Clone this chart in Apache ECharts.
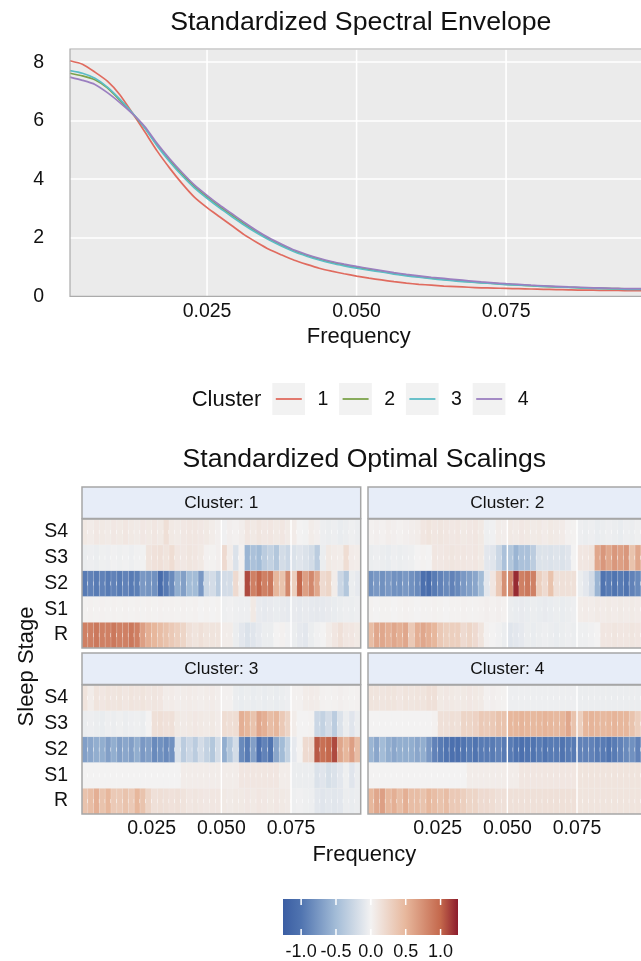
<!DOCTYPE html>
<html>
<head>
<meta charset="utf-8">
<script src="https://cdn.jsdelivr.net/npm/echarts@6/dist/echarts.min.js"></script>
<style>
  html, body { margin: 0; padding: 0; background: #ffffff; }
  #chart { width: 641px; height: 961px; }
</style>
</head>
<body>
<div id="chart"></div>
<script>
// Fourier frequency grid of the spectral analysis (k / 480)
const frequency = Array.from({ length: 48 }, (_, i) => (i + 1) / 480);
const clusterNames = ['1', '2', '3', '4'];
const stageNames = ['R', 'S1', 'S2', 'S3', 'S4'];
const freqTicks = [0.025, 0.05, 0.075];
const facetGridFreqs = [0.05, 0.075];
const colorbarTicks = [-1.0, -0.5, 0.0, 0.5, 1.0];

// Standardized spectral envelope per cluster
const envelope1 = [8.05, 7.93, 7.66, 7.35, 6.89, 6.27, 5.62, 4.96, 4.38, 3.85,
  3.38, 3.03, 2.72, 2.41, 2.10, 1.84, 1.60, 1.41, 1.23, 1.09,
  0.96, 0.86, 0.77, 0.69, 0.62, 0.56, 0.50, 0.45, 0.41, 0.38,
  0.35, 0.33, 0.31, 0.29, 0.28, 0.27, 0.26, 0.25, 0.24, 0.23,
  0.22, 0.21, 0.21, 0.20, 0.20, 0.19, 0.19, 0.18];
const envelope2 = [7.62, 7.53, 7.40, 7.12, 6.70, 6.25, 5.76, 5.17, 4.64, 4.17,
  3.75, 3.40, 3.07, 2.77, 2.47, 2.20, 1.95, 1.74, 1.55, 1.40,
  1.27, 1.16, 1.07, 0.99, 0.92, 0.85, 0.78, 0.72, 0.67, 0.62,
  0.58, 0.54, 0.50, 0.47, 0.44, 0.41, 0.39, 0.36, 0.34, 0.32,
  0.31, 0.29, 0.28, 0.27, 0.26, 0.25, 0.24, 0.24];
const envelope3 = [7.71, 7.62, 7.45, 7.15, 6.74, 6.27, 5.75, 5.14, 4.60, 4.12,
  3.70, 3.35, 3.02, 2.72, 2.43, 2.16, 1.92, 1.71, 1.52, 1.37,
  1.24, 1.13, 1.04, 0.96, 0.89, 0.83, 0.76, 0.70, 0.65, 0.60,
  0.56, 0.52, 0.49, 0.46, 0.43, 0.40, 0.38, 0.36, 0.34, 0.32,
  0.30, 0.29, 0.27, 0.26, 0.25, 0.24, 0.24, 0.23];
const envelope4 = [7.49, 7.38, 7.24, 6.96, 6.62, 6.24, 5.80, 5.22, 4.70, 4.23,
  3.80, 3.45, 3.12, 2.82, 2.52, 2.24, 1.99, 1.78, 1.58, 1.43,
  1.30, 1.19, 1.10, 1.02, 0.95, 0.88, 0.81, 0.75, 0.70, 0.65,
  0.61, 0.57, 0.53, 0.49, 0.46, 0.43, 0.41, 0.38, 0.36, 0.34,
  0.32, 0.31, 0.29, 0.28, 0.27, 0.26, 0.26, 0.25];

// Standardized optimal scalings: rows R, S1, S2, S3, S4 (48 frequencies each)
const scalings1 = [
  [0.85, 0.85, 0.9, 0.85, 0.85, 0.9, 0.85, 0.85, 0.9, 0.85, 0.65, 0.55, 0.5, 0.45, 0.4, 0.35, 0.3, 0.25, 0.15, 0.12, 0.15, 0.12, 0.12, 0.12, 0.05, 0.05, -0.05, -0.1, -0.15, -0.12, -0.08, -0.05, -0.05, 0.0, 0.02, -0.02, -0.05, -0.08, -0.1, -0.05, -0.02, 0.0, 0.05, 0.1, 0.15, 0.1, 0.1, 0.08],
  [0.01, 0.02, 0.01, 0.02, 0.01, 0.02, 0.01, 0.02, 0.01, 0.02, 0.01, 0.02, 0.01, 0.02, 0.01, 0.02, 0.01, 0.02, 0.01, 0.02, 0.0, 0.01, 0.0, 0.01, -0.03, -0.02, -0.03, -0.04, -0.04, 0.08, -0.07, -0.08, -0.07, -0.06, -0.07, -0.08, -0.07, -0.08, -0.07, -0.08, -0.09, -0.08, -0.07, -0.06, -0.05, -0.04, -0.05, -0.04],
  [-0.95, -0.9, -0.95, -0.9, -0.95, -0.9, -0.95, -0.9, -0.95, -0.92, -0.75, -0.78, -0.8, -1.1, -0.95, -0.85, -0.6, -0.7, -0.5, -0.5, -0.75, -0.25, -0.2, -0.35, -0.2, -0.2, 0.2, 0.05, 1.1, 0.85, 1.0, 0.85, 0.9, 0.5, 0.4, 0.8, 0.3, 1.0, 0.65, 0.8, 0.6, 0.2, 0.25, 0.05, -0.25, -0.4, -0.05, -0.08],
  [-0.05, -0.04, -0.05, -0.03, -0.04, -0.02, -0.03, -0.02, -0.04, -0.02, -0.01, 0.12, 0.14, 0.15, 0.12, 0.18, 0.1, 0.09, 0.11, 0.1, 0.08, 0.02, 0.01, 0.03, 0.2, 0.05, -0.15, 0.02, -0.55, -0.45, -0.5, -0.35, -0.3, -0.4, -0.2, -0.25, -0.15, -0.12, -0.15, -0.2, -0.35, -0.05, 0.08, 0.06, 0.05, 0.18, 0.06, 0.05],
  [0.08, 0.06, 0.09, 0.08, 0.07, 0.09, 0.08, 0.1, 0.08, 0.07, 0.09, 0.08, 0.1, 0.08, 0.16, 0.08, 0.07, 0.09, 0.1, 0.1, 0.09, 0.08, 0.05, 0.03, -0.02, 0.03, 0.02, 0.04, 0.1, 0.08, 0.11, 0.09, 0.1, 0.08, 0.1, 0.07, 0.06, 0.0, -0.01, 0.05, 0.03, -0.04, -0.05, -0.04, -0.06, -0.05, -0.03, -0.05]
];
const scalings2 = [
  [0.45, 0.6, 0.6, 0.55, 0.6, 0.55, 0.6, 0.35, 0.55, 0.6, 0.55, 0.5, 0.35, 0.3, 0.3, 0.3, 0.2, 0.25, 0.2, 0.12, 0.02, 0.0, -0.02, -0.05, -0.12, -0.1, -0.08, -0.05, -0.06, -0.05, -0.04, -0.05, -0.06, -0.05, -0.04, -0.05, -0.03, -0.03, -0.02, 0.0, 0.1, 0.1, 0.11, 0.1, 0.1, 0.11, 0.1, 0.1],
  [0.01, 0.0, 0.01, 0.01, 0.0, 0.01, 0.02, 0.01, 0.0, 0.01, 0.01, 0.02, 0.01, 0.0, 0.01, 0.01, 0.02, 0.01, 0.01, 0.02, 0.03, 0.02, 0.03, 0.02, -0.05, -0.06, -0.07, -0.06, -0.05, -0.06, -0.07, -0.06, -0.05, -0.06, -0.05, -0.04, 0.05, 0.06, 0.05, 0.07, 0.06, 0.07, 0.06, 0.07, 0.06, 0.07, 0.06, 0.05],
  [-0.8, -0.75, -0.8, -0.75, -0.8, -0.8, -0.75, -0.8, -0.85, -1.05, -1.1, -0.95, -0.9, -0.85, -0.9, -0.85, -0.75, -0.7, -0.65, -0.5, -0.1, 0.1, 0.35, 0.75, 0.8, 1.2, 0.85, 0.9, 0.85, 0.3, 0.2, 0.4, 0.15, 0.15, 0.15, 0.15, -0.05, -0.1, -0.2, -0.55, -1.0, -0.95, -1.0, -0.95, -1.0, -0.9, -0.85, -0.95],
  [-0.05, -0.04, -0.05, -0.06, -0.04, -0.05, -0.04, -0.03, 0.0, 0.01, 0.0, 0.1, 0.09, 0.1, 0.11, 0.1, 0.1, 0.09, 0.1, 0.08, -0.1, -0.12, -0.25, -0.45, -0.4, -0.55, -0.45, -0.45, -0.35, -0.15, -0.14, -0.15, -0.13, -0.15, -0.12, 0.0, 0.1, 0.1, 0.12, 0.6, 0.7, 0.6, 0.7, 0.65, 0.7, 0.4, 0.6, 0.55],
  [0.02, 0.03, 0.02, 0.04, 0.03, 0.02, 0.03, 0.04, 0.05, 0.1, 0.12, 0.1, 0.11, 0.1, 0.09, 0.1, 0.08, 0.09, 0.1, 0.08, -0.03, -0.02, 0.05, 0.04, 0.08, 0.07, 0.09, 0.08, 0.07, 0.08, 0.06, 0.08, 0.07, 0.06, 0.02, 0.01, -0.04, -0.05, -0.04, -0.06, -0.05, -0.04, -0.05, -0.06, -0.04, -0.05, -0.03, -0.05]
];
const scalings3 = [
  [0.4, 0.45, 0.55, 0.4, 0.5, 0.35, 0.35, 0.4, 0.35, 0.5, 0.4, 0.25, 0.15, 0.16, 0.15, 0.14, 0.15, 0.13, 0.1, 0.11, 0.1, 0.09, 0.1, 0.1, 0.08, 0.07, 0.08, 0.08, 0.09, 0.08, 0.1, 0.09, 0.08, 0.09, 0.08, 0.07, -0.03, -0.02, -0.03, -0.04, -0.1, -0.12, -0.1, -0.11, -0.1, -0.05, -0.06, -0.05],
  [0.0, 0.0, 0.0, 0.0, 0.0, 0.0, 0.0, 0.0, 0.0, 0.0, 0.0, 0.0, 0.0, 0.0, 0.0, 0.0, 0.0, 0.05, 0.05, 0.05, 0.05, 0.05, 0.05, 0.05, 0.05, 0.05, 0.05, 0.1, 0.1, 0.1, 0.1, 0.1, 0.1, 0.1, 0.05, 0.05, -0.05, -0.05, -0.05, -0.05, -0.15, -0.12, -0.18, -0.15, -0.1, -0.03, -0.12, -0.05],
  [-0.7, -0.65, -0.6, -0.6, -0.7, -0.6, -0.7, -0.65, -0.7, -0.6, -0.75, -0.7, -0.85, -0.8, -0.85, -0.8, -0.15, -0.35, -0.25, -0.35, -0.2, -0.3, -0.4, -0.2, -0.6, -0.4, -0.2, -0.85, -0.95, -0.7, -1.05, -0.9, -1.0, -0.65, -0.5, -0.3, -0.08, 0.0, 0.2, 0.2, 1.05, 0.95, 1.0, 1.1, 0.6, 0.5, 0.65, 0.45],
  [-0.05, -0.04, -0.05, -0.06, -0.04, -0.05, -0.03, -0.05, -0.04, -0.03, -0.05, 0.0, 0.15, 0.16, 0.14, 0.15, 0.08, 0.07, 0.08, 0.09, 0.08, 0.07, 0.08, 0.06, 0.18, 0.17, 0.18, 0.55, 0.5, 0.4, 0.6, 0.55, 0.45, 0.5, 0.35, 0.25, 0.05, 0.0, 0.0, 0.01, -0.25, -0.3, -0.2, -0.35, -0.15, -0.05, -0.12, -0.05],
  [0.12, 0.05, 0.12, 0.1, 0.12, 0.11, 0.12, 0.1, 0.12, 0.11, 0.12, 0.1, 0.11, 0.1, 0.05, 0.06, 0.04, 0.05, 0.06, 0.05, 0.04, 0.05, 0.06, 0.04, 0.02, 0.02, -0.05, -0.06, -0.05, -0.06, -0.05, -0.06, -0.05, -0.06, -0.05, -0.04, 0.02, 0.02, 0.05, 0.06, 0.05, 0.02, 0.01, 0.02, 0.03, 0.02, 0.01, 0.02]
];
const scalings4 = [
  [0.5, 0.6, 0.65, 0.5, 0.55, 0.45, 0.55, 0.45, 0.45, 0.4, 0.5, 0.45, 0.4, 0.45, 0.35, 0.35, 0.3, 0.25, 0.25, 0.2, 0.2, 0.18, 0.15, 0.15, 0.15, 0.15, 0.15, 0.15, 0.15, 0.15, 0.15, 0.15, 0.15, 0.15, 0.15, 0.15, 0.12, 0.12, 0.12, 0.12, 0.12, 0.12, 0.12, 0.12, 0.12, 0.12, 0.12, 0.12],
  [0.0, 0.0, 0.0, 0.0, 0.0, 0.0, 0.0, 0.0, 0.0, 0.0, 0.0, 0.0, 0.0, 0.0, 0.0, 0.0, 0.0, 0.05, 0.05, 0.05, 0.05, 0.05, 0.05, 0.05, 0.05, 0.05, 0.1, 0.1, 0.1, 0.1, 0.1, 0.1, 0.1, 0.1, 0.1, 0.1, 0.12, 0.12, 0.12, 0.12, 0.12, 0.12, 0.12, 0.12, 0.12, 0.12, 0.12, 0.12],
  [-0.55, -0.65, -0.5, -0.6, -0.65, -0.6, -0.6, -0.6, -0.65, -0.6, -0.75, -0.9, -0.95, -1.0, -1.05, -1.05, -1.0, -0.95, -1.0, -0.95, -0.95, -0.95, -0.9, -0.95, -0.95, -1.0, -1.05, -1.0, -1.0, -0.95, -1.0, -0.95, -0.95, -1.0, -0.95, -0.95, -0.9, -0.9, -0.9, -0.95, -0.95, -1.0, -0.95, -0.9, -0.85, -0.8, -0.9, -0.8],
  [0.0, 0.0, 0.0, 0.0, 0.0, 0.0, 0.0, 0.0, 0.0, 0.0, 0.0, 0.02, 0.15, 0.15, 0.16, 0.15, 0.25, 0.25, 0.27, 0.35, 0.33, 0.35, 0.4, 0.4, 0.5, 0.5, 0.52, 0.5, 0.48, 0.5, 0.52, 0.5, 0.48, 0.5, 0.6, 0.4, 0.3, 0.5, 0.52, 0.5, 0.48, 0.5, 0.52, 0.5, 0.5, 0.4, 0.3, 0.3],
  [0.12, 0.12, 0.11, 0.12, 0.12, 0.1, 0.12, 0.11, 0.12, 0.12, 0.15, 0.15, 0.08, 0.09, 0.08, 0.07, 0.08, 0.09, 0.08, 0.07, 0.02, 0.03, 0.02, 0.01, -0.04, -0.04, -0.04, -0.04, -0.04, -0.04, -0.04, -0.04, -0.04, -0.04, -0.04, -0.04, -0.05, -0.05, -0.05, -0.05, -0.05, -0.05, -0.05, -0.05, -0.05, -0.05, -0.05, -0.05]
];

const envelopes = [envelope1, envelope2, envelope3, envelope4];
const scalings = [scalings1, scalings2, scalings3, scalings4];

// ---- styling ----
const FONT = '"Liberation Sans", Arial, Helvetica, sans-serif';
const TEXT = '#111111';
const lineColors = ['#E06B5F', '#7CA34B', '#5BBCC6', '#9B7FC0'];
const scaleMin = -1.26, scaleMax = 1.25;
const colorStops = [
  [-1.26, [59, 94, 163]],
  [-1.0, [80, 116, 176]],
  [-0.5, [163, 188, 215]],
  [0.0, [243, 242, 242]],
  [0.5, [231, 183, 156]],
  [1.0, [196, 104, 76]],
  [1.25, [140, 28, 44]]
];
function colorOf(v) {
  const lo = colorStops[0][0], hi = colorStops[colorStops.length - 1][0];
  v = Math.max(lo, Math.min(hi, v));
  for (let i = 1; i < colorStops.length; i++) {
    const [v1, c1] = colorStops[i];
    const [v0, c0] = colorStops[i - 1];
    if (v <= v1) {
      const t = (v - v0) / (v1 - v0);
      const c = c0.map((a, k) => Math.round(a + (c1[k] - a) * t));
      return 'rgb(' + c.join(',') + ')';
    }
  }
  return 'rgb(140,28,44)';
}

// ---- layout (the right-hand panels run past the canvas edge) ----
const envGrid = { left: 70, top: 49, width: 585.6, height: 247.3 };
const panelW = 278.7, panelH = 129, stripH = 32;
const panelPos = [[82, 519], [368, 519], [82, 685], [368, 685]];
const barGrid = { left: 283, top: 899, width: 175, height: 36 };
const freqStep = 1 / 480;

function gridBox(left, top, width, height, extra) {
  return Object.assign({ left: left, top: top, width: width, height: height,
    outerBoundsMode: 'none', containLabel: false }, extra || {});
}

const grids = [gridBox(envGrid.left, envGrid.top, envGrid.width, envGrid.height,
  { show: true, backgroundColor: '#EBEBEB', borderWidth: 0 })];
panelPos.forEach(p => grids.push(gridBox(p[0], p[1], panelW, panelH,
  { show: true, backgroundColor: '#EBEBEB', borderWidth: 0 })));
grids.push(gridBox(barGrid.left, barGrid.top, barGrid.width, barGrid.height, { show: false }));

const xAxes = [{
  gridIndex: 0, type: 'value', min: frequency[0], max: 0.1, scale: true,
  axisLine: { show: false }, axisTick: { show: false }, splitLine: { show: false },
  axisLabel: { customValues: freqTicks, formatter: v => v.toFixed(3), color: TEXT, fontSize: 19.5, fontFamily: FONT, margin: 5 }
}];
panelPos.forEach((p, i) => xAxes.push({
  gridIndex: i + 1, type: 'value', min: 0, max: 0.1, interval: 0.025,
  axisLine: { show: false }, axisTick: { show: false }, splitLine: { show: false },
  axisLabel: {
    show: i >= 2, color: TEXT, fontSize: 19.5, fontFamily: FONT, margin: 5,
    formatter: v => (v <= 0 || v >= 0.1 - 1e-9) ? '' : v.toFixed(3)
  }
}));
xAxes.push({
  gridIndex: 5, type: 'value', min: scaleMin, max: scaleMax,
  axisLine: { show: false }, splitLine: { show: false }, axisTick: { show: false },
  axisLabel: { customValues: colorbarTicks, formatter: v => v.toFixed(1), color: TEXT, fontSize: 18, fontFamily: FONT, margin: 8 }
});

const yAxes = [{
  gridIndex: 0, type: 'value', min: 0, max: 8.45, interval: 2,
  axisLine: { show: false }, axisTick: { show: false },
  splitLine: { show: true, lineStyle: { color: '#ffffff', width: 1.6 } },
  axisLabel: { color: TEXT, fontSize: 19.5, fontFamily: FONT, margin: 26, showMaxLabel: false }
}];
panelPos.forEach((p, i) => yAxes.push({
  gridIndex: i + 1, type: 'category', data: stageNames,
  axisLine: { show: false }, axisTick: { show: false }, splitLine: { show: false },
  axisLabel: { show: i % 2 === 0, interval: 0, color: TEXT, fontSize: 19.5, fontFamily: FONT, margin: 14 }
}));
yAxes.push({ gridIndex: 5, type: 'value', min: 0, max: 1, show: false });

// vertical white grid lines spanning a panel
function renderVLine(width) {
  return function (params, api) {
    const cs = params.coordSys;
    const x = api.coord([api.value(0), 0])[0];
    return { type: 'line', shape: { x1: x, y1: cs.y, x2: x, y2: cs.y + cs.height },
      style: { stroke: '#ffffff', lineWidth: width } };
  };
}

const series = [];
series.push({
  type: 'custom', xAxisIndex: 0, yAxisIndex: 0, silent: true, z: 1,
  encode: { x: 0 }, data: freqTicks.map(v => [v]),
  renderItem: renderVLine(1.6)
});
envelopes.forEach((env, i) => series.push({
  name: clusterNames[i], type: 'line', xAxisIndex: 0, yAxisIndex: 0,
  data: frequency.map((f, k) => [f, env[k]]),
  showSymbol: false, smooth: 0.2, z: 3 + i,
  lineStyle: { color: lineColors[i], width: 1.7 }, itemStyle: { color: lineColors[i] }
}));

function renderTile(params, api) {
  const x0 = api.value(0), x1 = api.value(1), row = api.value(2), v = api.value(3);
  const a = api.coord([x0, row]);
  const b = api.coord([x1, row]);
  const h = api.size([0, 1])[1];
  return {
    type: 'group',
    children: [
      { type: 'rect', shape: { x: a[0], y: a[1] - h / 2, width: b[0] - a[0], height: h },
        style: { fill: colorOf(v), stroke: 'rgba(255,255,255,0.22)', lineWidth: 0.6 } },
      { type: 'line', shape: { x1: b[0], y1: a[1] - 2, x2: b[0], y2: a[1] + 2 },
        style: { stroke: 'rgba(255,255,255,0.95)', lineWidth: 1 } }
    ]
  };
}

scalings.forEach((rows, ci) => {
  const data = [];
  rows.forEach((vals, r) => vals.forEach((v, j) => data.push([j * freqStep, (j + 1) * freqStep, r, v])));
  series.push({
    type: 'custom', xAxisIndex: ci + 1, yAxisIndex: ci + 1, silent: true, z: 2,
    renderItem: renderTile, clip: true,
    encode: { x: [0, 1], y: 2 },
    data: data
  });
  series.push({
    type: 'custom', xAxisIndex: ci + 1, yAxisIndex: ci + 1, silent: true, z: 3,
    encode: { x: 0 }, data: facetGridFreqs.map(v => [v]),
    renderItem: renderVLine(1.4)
  });
});

// colour bar: gradient strip, then white break marks at top and bottom
const gradientStops = colorStops.map(s => ({
  offset: (s[0] - scaleMin) / (scaleMax - scaleMin),
  color: 'rgb(' + s[1].join(',') + ')'
}));
series.push({
  type: 'custom', xAxisIndex: 5, yAxisIndex: 5, silent: true, z: 2,
  encode: { x: [0, 1], y: [2, 3] },
  data: [[scaleMin, scaleMax, 0, 1]],
  renderItem: (params, api) => {
    const a = api.coord([api.value(0), api.value(3)]);
    const b = api.coord([api.value(1), api.value(2)]);
    return {
      type: 'rect', shape: { x: a[0], y: a[1], width: b[0] - a[0], height: b[1] - a[1] },
      style: { fill: { type: 'linear', x: 0, y: 0, x2: 1, y2: 0, colorStops: gradientStops } }
    };
  }
});
series.push({
  type: 'custom', xAxisIndex: 5, yAxisIndex: 5, silent: true, z: 4,
  encode: { x: 0 }, data: colorbarTicks.map(v => [v]),
  renderItem: (params, api) => {
    const cs = params.coordSys;
    const x = api.coord([api.value(0), 0])[0];
    return {
      type: 'group', children: [
        { type: 'line', shape: { x1: x, y1: cs.y, x2: x, y2: cs.y + 6 }, style: { stroke: '#ffffff', lineWidth: 1.5 } },
        { type: 'line', shape: { x1: x, y1: cs.y + cs.height - 6, x2: x, y2: cs.y + cs.height }, style: { stroke: '#ffffff', lineWidth: 1.5 } }
      ]
    };
  }
});

// text, legend, strips and panel frames
const gfx = [];
function txt(x, y, s, size, extra) {
  gfx.push(Object.assign({ type: 'text', x: x, y: y, z: 50,
    style: { text: s, fontSize: size, fontFamily: FONT, fill: TEXT, align: 'center', verticalAlign: 'middle' } }, extra || {}));
}
const envCx = envGrid.left + envGrid.width / 2;
const facetCx = (panelPos[0][0] + panelPos[1][0] + panelW) / 2;
txt(envCx - 2, 23, 'Standardized Spectral Envelope', 26.7);
txt(envCx - 4, 337, 'Frequency', 22);
txt(facetCx, 460, 'Standardized Optimal Scalings', 26.6);
txt(facetCx, 855, 'Frequency', 22);
txt(27, (panelPos[0][1] + panelPos[2][1] + panelH) / 2, 'Sleep Stage', 22, { rotation: Math.PI / 2 });

// legend
txt(226.5, 400, 'Cluster', 22);
clusterNames.forEach((name, i) => {
  const kx = 272.3 + i * 66.8;
  gfx.push({ type: 'rect', z: 50, shape: { x: kx, y: 383, width: 32.7, height: 32 }, style: { fill: '#F2F2F2' } });
  gfx.push({ type: 'line', z: 51, shape: { x1: kx + 3.5, y1: 399, x2: kx + 29.5, y2: 399 }, style: { stroke: lineColors[i], lineWidth: 1.8 } });
  txt(kx + 50.5, 400, name, 19.5);
});

// facet strips and frames
panelPos.forEach((p, i) => {
  gfx.push({ type: 'rect', z: 50, shape: { x: p[0], y: p[1] - stripH, width: panelW, height: stripH - 0.5 },
    style: { fill: '#E7EDF8', stroke: '#A6A6A6', lineWidth: 1.5 } });
  txt(p[0] + panelW / 2, p[1] - stripH / 2, 'Cluster: ' + clusterNames[i], 17.3);
  gfx.push({ type: 'rect', z: 50, shape: { x: p[0], y: p[1], width: panelW, height: panelH },
    style: { fill: 'none', stroke: '#A6A6A6', lineWidth: 1.5 } });
});
gfx.push({ type: 'rect', z: 50, shape: { x: envGrid.left, y: envGrid.top, width: envGrid.width, height: envGrid.height },
  style: { fill: 'none', stroke: '#ABABAB', lineWidth: 1.2 } });

const chart = echarts.init(document.getElementById('chart'), null, { renderer: 'canvas' });
chart.setOption({
  backgroundColor: '#ffffff',
  animation: false,
  grid: grids,
  xAxis: xAxes,
  yAxis: yAxes,
  series: series,
  graphic: { elements: gfx }
});
</script>
</body>
</html>
